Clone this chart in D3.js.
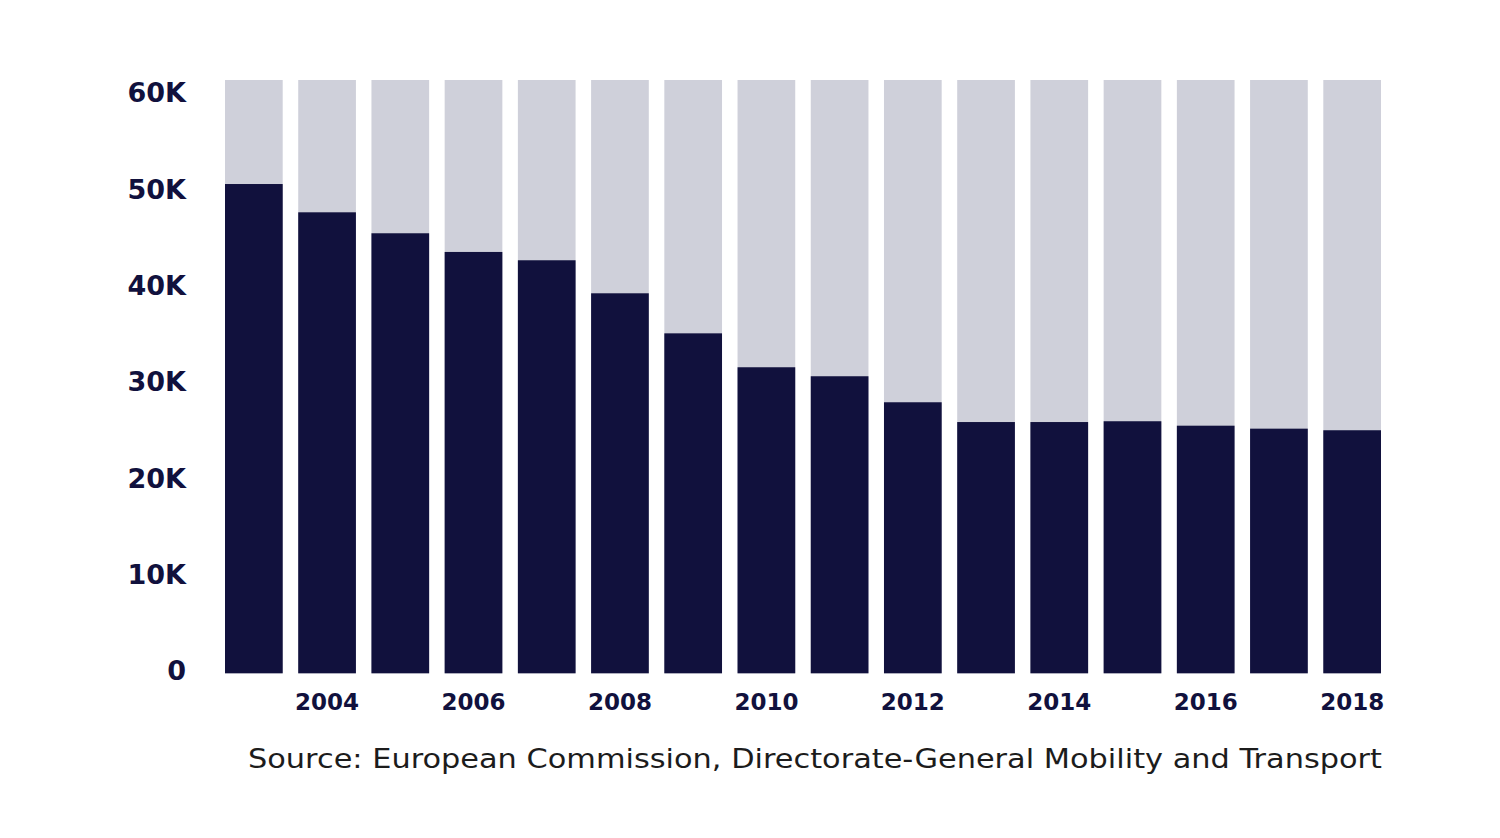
<!DOCTYPE html>
<html>
<head>
<meta charset="utf-8">
<script src="https://cdn.jsdelivr.net/npm/d3@7"></script>
<style>
  body { margin: 0; background: #fff; }
  .yaxis text { font-family: "DejaVu Sans", sans-serif; font-weight: bold; font-size: 27px; fill: #11113d; }
  .xaxis text { font-family: "DejaVu Sans", sans-serif; font-weight: bold; font-size: 23px; fill: #11113d; }
  .source { font-family: "DejaVu Sans", sans-serif; font-size: 26px; fill: #1c1c1c; }
</style>
</head>
<body>
<div id="chart"></div>
<script>
// road fatalities per year
var years = [2003, 2004, 2005, 2006, 2007, 2008, 2009, 2010, 2011, 2012, 2013, 2014, 2015, 2016, 2017, 2018];
var deaths = [49480, 46620, 44500, 42610, 41770, 38430, 34380, 30950, 30040, 27410, 25410, 25410, 25490, 25040, 24740, 24580];
var yTicks = [0, 10000, 20000, 30000, 40000, 50000, 60000];
var xTickYears = [2004, 2006, 2008, 2010, 2012, 2014, 2016, 2018];
var yMax = 60000;
var sourceText = "Source: European Commission, Directorate-General Mobility and Transport";

const svg_width = 1500;
const svg_height = 838;
const chart = {left: 225, right: 1381, top: 80, bottom: 673.3};

const svg = d3.select('#chart').append('svg')
  .attr('width', svg_width).attr('height', svg_height);

const xScale = d3.scaleBand().domain(years).range([chart.left, chart.right])
  .paddingInner(0.212).paddingOuter(0);
const yScale = d3.scaleLinear([0, yMax], [chart.bottom, chart.top]);
// tick labels sit on a slightly tighter spacing than the bars
const yLabelScale = d3.scaleLinear([0, yMax], [670, 92]);

// light background bars up to the max
svg.append('g').selectAll('rect').data(years).enter()
  .append('rect')
  .attr('x', d => xScale(d)).attr('y', yScale(yMax))
  .attr('width', xScale.bandwidth()).attr('height', yScale(0) - yScale(yMax))
  .style('fill', '#cfd0da');

// value bars
svg.append('g').selectAll('rect').data(years).enter()
  .append('rect')
  .attr('x', d => xScale(d)).attr('y', (d, i) => yScale(deaths[i]))
  .attr('width', xScale.bandwidth()).attr('height', (d, i) => yScale(0) - yScale(deaths[i]))
  .style('fill', '#11113d');

const yAxis = d3.axisLeft(yLabelScale).tickValues(yTicks).tickSize(0)
  .tickFormat(d => d === 0 ? '0' : (d / 1000) + 'K');
const yAxisDraw = svg.append('g').attr('class', 'yaxis')
  .attr('transform', 'translate(186,0)').call(yAxis);
yAxisDraw.select('.domain').remove();
yAxisDraw.selectAll('text').attr('x', 0).attr('dy', '0.36em');

const xAxis = d3.axisBottom(xScale).tickValues(xTickYears).tickSize(0);
const xAxisDraw = svg.append('g').attr('class', 'xaxis').call(xAxis);
xAxisDraw.select('.domain').remove();
xAxisDraw.selectAll('text').attr('y', 710).attr('dy', 0);

svg.append('text').attr('class', 'source')
  .attr('x', 248).attr('y', 768)
  .attr('textLength', 1134).attr('lengthAdjust', 'spacingAndGlyphs')
  .text(sourceText);
</script>
</body>
</html>
